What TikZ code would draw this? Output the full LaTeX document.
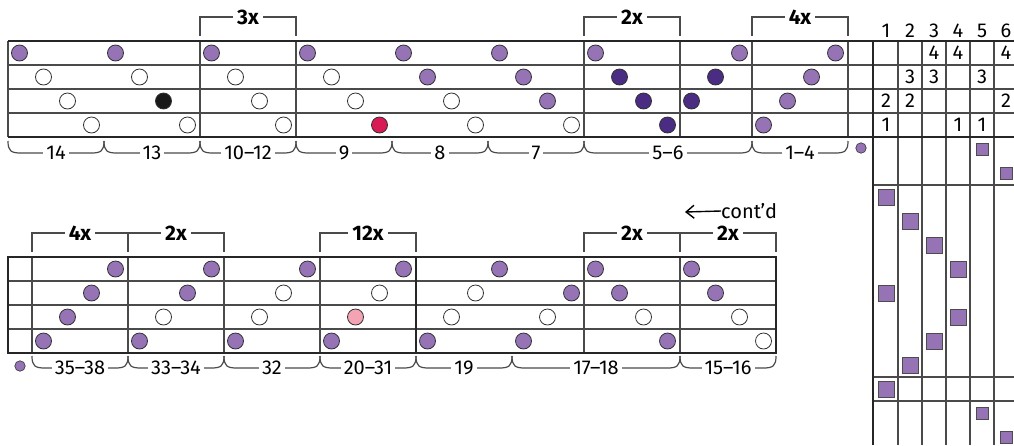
\documentclass[tikz,border=0pt]{standalone}
\usepackage{fontspec}
\setmainfont{Fira Sans}
\usetikzlibrary{arrows.meta}
\definecolor{pegpurple}{HTML}{9573B5}
\definecolor{pegdark}{HTML}{4A2C82}
\definecolor{pegred}{HTML}{D81B55}
\definecolor{pegpink}{HTML}{F4A3B5}
\definecolor{gridgray}{HTML}{4A4A4A}

\tikzset{
  gridline/.style={draw=gridgray, line width=1.2pt},
  heavyline/.style={draw=black!85, line width=2.8pt},
  peg/.style={circle, draw=black!80, line width=0.8pt, minimum size=16pt, inner sep=0pt},
  dot/.style={circle, draw=black!80, line width=0.6pt, fill=pegpurple, minimum size=10.5pt, inner sep=0pt},
  bigsq/.style={rectangle, draw=black!70, line width=0.8pt, fill=pegpurple, minimum size=16pt, inner sep=0pt},
  smallsq/.style={rectangle, draw=black!70, line width=0.8pt, fill=pegpurple, minimum size=12pt, inner sep=0pt},
  replabel/.style={fill=white, inner xsep=4pt, inner ysep=1pt, font=\fontsize{21}{23}\selectfont\bfseries},
  countlabel/.style={fill=white, inner xsep=3pt, inner ysep=1pt}
}

\newcommand{\repbracket}[4]{\draw[gridline] (#1,#3+19) -- (#1,#3) -- node[replabel] {#4} (#2,#3) -- (#2,#3+19);}
\newcommand{\repbrace}[4]{\draw[gridline] (#1,#3) .. controls (#1,#3+10) and (#1+3,#3+12) .. (#1+13,#3+12) -- node[countlabel] {#4} (#2-13,#3+12) .. controls (#2-3,#3+12) and (#2,#3+10) .. (#2,#3);}

\begin{document}
\begin{tikzpicture}[x=1pt, y=-1pt, font=\fontsize{20}{22}\selectfont]
\useasboundingbox (0,0) rectangle (1014,445);

\foreach \y in {65,89,113} \draw[gridline] (8,\y) -- (1014,\y);
\foreach \x in {8,200,296,584,680,752,848} \draw[gridline] (\x,41) -- (\x,137);
\foreach \x in {898,922,946,970,994} \draw[gridline] (\x,41) -- (\x,445);
\foreach \y in {185,377,401} \draw[gridline] (874,\y) -- (1014,\y);
\draw[heavyline] (8,41) -- (1014,41);
\draw[heavyline] (8,137) -- (1014,137);
\draw[heavyline] (873,41) -- (873,445);

\foreach \y in {281,305,329} \draw[gridline] (8,\y) -- (776,\y);
\foreach \x in {32,128,224,320,584,680} \draw[gridline] (\x,257) -- (\x,353);
\draw[heavyline] (8,257) rectangle (776,353);
\draw[heavyline] (416,257) -- (416,353);

\foreach \c/\r/\f in {0/1/pegpurple,4/1/pegpurple,8/1/pegpurple,12/1/pegpurple,16/1/pegpurple,20/1/pegpurple,24/1/pegpurple,30/1/pegpurple,34/1/pegpurple,
  1/2/white,5/2/white,9/2/white,13/2/white,17/2/pegpurple,21/2/pegpurple,25/2/pegdark,29/2/pegdark,33/2/pegpurple,
  2/3/white,6/3/black!90,10/3/white,14/3/white,18/3/white,22/3/pegpurple,26/3/pegdark,28/3/pegdark,32/3/pegpurple,
  3/4/white,7/4/white,11/4/white,15/4/pegred,19/4/white,23/4/white,27/4/pegdark,31/4/pegpurple}
  \node[peg, fill=\f] (upper\c-\r) at ({19.5+24*\c},{29+24*\r}) {};

\foreach \c/\r/\f in {4/1/pegpurple,8/1/pegpurple,12/1/pegpurple,16/1/pegpurple,20/1/pegpurple,24/1/pegpurple,28/1/pegpurple,
  3/2/pegpurple,7/2/pegpurple,11/2/white,15/2/white,19/2/white,23/2/pegpurple,25/2/pegpurple,29/2/pegpurple,
  2/3/pegpurple,6/3/white,10/3/white,14/3/pegpink,18/3/white,22/3/white,26/3/white,30/3/white,
  1/4/pegpurple,5/4/pegpurple,9/4/pegpurple,13/4/pegpurple,17/4/pegpurple,21/4/pegpurple,27/4/pegpurple,31/4/white}
  \node[peg, fill=\f] (lower\c-\r) at ({19.5+24*\c},{245+24*\r}) {};

\foreach \j in {1,...,6} \node (shaft\j) at ({862+24*\j},31) {\j};
\foreach \j/\r/\n in {3/1/4,4/1/4,6/1/4,2/2/3,3/2/3,5/2/3,1/3/2,2/3/2,6/3/2,1/4/1,4/4/1,5/4/1}
  \node (tie\j-\r) at ({862+24*\j},{29+24*\r}) {\n};

\foreach \k/\j in {2/1,3/2,4/3,5/4,6/1,7/4,8/3,9/2,10/1}
  \node[bigsq] (tread\k) at ({862+24*\j},{149+24*\k}) {};
\foreach \k/\j in {0/5,1/6,11/5,12/6}
  \node[smallsq] (tread\k) at ({862+24*\j},{149+24*\k}) {};

\node[dot] (dotupper) at (861,148) {};
\node[dot] (dotlower) at (20,366) {};

\repbracket{200}{296}{17}{3x}
\repbracket{584}{680}{17}{2x}
\repbracket{752}{848}{17}{4x}
\repbracket{32}{128}{233}{4x}
\repbracket{128}{224}{233}{2x}
\repbracket{320}{416}{233}{12x}
\repbracket{584}{680}{233}{2x}
\repbracket{680}{776}{233}{2x}

\repbrace{8}{104}{141}{14}
\repbrace{104}{200}{141}{13}
\repbrace{200}{296}{141}{10–12}
\repbrace{296}{392}{141}{9}
\repbrace{392}{488}{141}{8}
\repbrace{488}{584}{141}{7}
\repbrace{584}{752}{141}{5–6}
\repbrace{752}{848}{141}{1–4}
\repbrace{32}{128}{356}{35–38}
\repbrace{128}{224}{356}{33–34}
\repbrace{224}{320}{356}{32}
\repbrace{320}{416}{356}{20–31}
\repbrace{416}{512}{356}{19}
\repbrace{512}{680}{356}{17–18}
\repbrace{680}{776}{356}{15–16}

\node[anchor=west, inner sep=0pt] (contd) at (721,211) {cont’d};
\coordinate (contdtip) at (685,212);
\draw[line width=1.4pt, -{Straight Barb[length=8pt, width=13pt]}] (contd.west) -- (contdtip);
\end{tikzpicture}
\end{document}
